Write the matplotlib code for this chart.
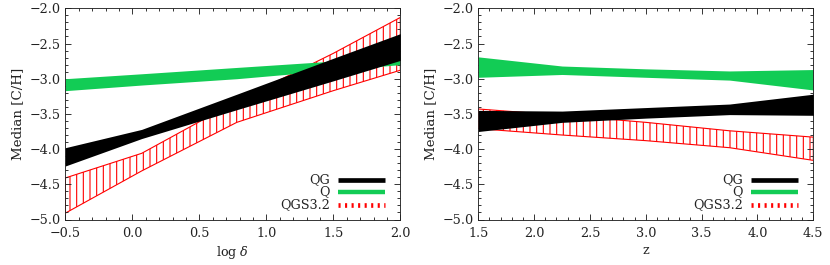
import numpy as np
import matplotlib
matplotlib.use("Agg")
import matplotlib.pyplot as plt
from matplotlib.ticker import MultipleLocator

# --- data ---
# left panel: median [C/H] vs log delta
logd = [-0.5, 0.07, 0.78, 1.5, 2.0]
qg_hi_d = [-3.98, -3.72, -3.22, -2.71, -2.36]
qg_lo_d = [-4.24, -3.85, -3.44, -3.03, -2.74]
q_hi_d = [-3.00, -2.93, -2.84, -2.75, -2.69]
q_lo_d = [-3.17, -3.09, -3.00, -2.88, -2.80]
qgs_hi_d = [-4.41, -4.06, -3.32, -2.64, -2.13]
qgs_lo_d = [-4.91, -4.31, -3.62, -3.17, -2.88]

# right panel: median [C/H] vs z
z = [1.5, 2.25, 3.0, 3.75, 4.5]
qg_hi_z = [-3.45, -3.46, -3.41, -3.36, -3.22]
qg_lo_z = [-3.75, -3.62, -3.56, -3.51, -3.52]
q_hi_z = [-2.69, -2.82, -2.86, -2.89, -2.87]
q_lo_z = [-2.98, -2.94, -2.98, -3.02, -3.16]
qgs_hi_z = [-3.43, -3.52, -3.62, -3.74, -3.83]
qgs_lo_z = [-3.71, -3.80, -3.88, -3.98, -4.16]

legend_labels = ["QG", "Q", "QGS3.2"]

GREEN = "#12cc55"
RED = "#ff0000"
INK = "#222222"

plt.rcParams["font.family"] = ["DejaVu Serif"]
plt.rcParams["mathtext.fontset"] = "dejavuserif"
plt.rcParams["font.size"] = 11.5
plt.rcParams["hatch.linewidth"] = 1.0

DPI = 80
fig = plt.figure(figsize=(830 / DPI, 265 / DPI), dpi=DPI)
W, H = 830.0, 265.0
axL = fig.add_axes([65.3 / W, 1 - 219.5 / H, 335 / W, 211.2 / H])
axR = fig.add_axes([478.3 / W, 1 - 219.5 / H, 335 / W, 211.2 / H])


def panel(ax, x, qg_hi, qg_lo, q_hi, q_lo, qgs_hi, qgs_lo, xlim, xlabel):
    ax.fill_between(x, qgs_lo, qgs_hi, facecolor="none", edgecolor=RED,
                    hatch="||", lw=1.0, zorder=1)
    ax.fill_between(x, q_lo, q_hi, color=GREEN, lw=0, zorder=2)
    ax.fill_between(x, qg_lo, qg_hi, color="black", lw=0, zorder=3)

    ax.set_xlim(*xlim)
    ax.set_ylim(-5.0, -2.0)
    ax.xaxis.set_major_locator(MultipleLocator(0.5))
    ax.xaxis.set_minor_locator(MultipleLocator(0.1))
    ax.yaxis.set_major_locator(MultipleLocator(0.5))
    ax.yaxis.set_minor_locator(MultipleLocator(0.1))
    ax.tick_params(which="both", direction="in", top=True, right=True,
                   colors=INK, width=0.8)
    ax.tick_params(which="major", length=5)
    ax.tick_params(which="minor", length=2.5)
    ax.tick_params(axis="x", pad=7)
    ax.tick_params(axis="y", pad=4)
    ax.yaxis.set_major_formatter(lambda v, p: f"{v:.1f}".replace("-", "\u2212"))
    ax.xaxis.set_major_formatter(lambda v, p: f"{v:.1f}".replace("-", "\u2212"))
    for s in ax.spines.values():
        s.set_color(INK)
        s.set_linewidth(0.8)
    ax.set_ylabel("Median [C/H]", color=INK, labelpad=5, fontsize=12)
    ax.set_xlabel(xlabel, color=INK, labelpad=3)

    # legend drawn by hand: labels right-aligned to the left of the swatches
    ys = [0.187, 0.130, 0.069]
    styles = [dict(color="black", lw=4.2, solid_capstyle="butt"),
              dict(color=GREEN, lw=4.0, solid_capstyle="butt"),
              dict(color=RED, lw=4.2, dashes=(0.45, 0.95), dash_capstyle="butt")]
    for yy, lab, st in zip(ys, legend_labels, styles):
        ax.plot([0.815, 0.955], [yy, yy], transform=ax.transAxes, zorder=5, **st)
        ax.text(0.79, yy, lab, transform=ax.transAxes, ha="right", va="center",
                color=INK, zorder=5)


panel(axL, logd, qg_hi_d, qg_lo_d, q_hi_d, q_lo_d, qgs_hi_d, qgs_lo_d,
      (-0.5, 2.0), r"log $\delta$")
panel(axR, z, qg_hi_z, qg_lo_z, q_hi_z, q_lo_z, qgs_hi_z, qgs_lo_z,
      (1.5, 4.5), "z")

fig.savefig("out.png", dpi=DPI)
